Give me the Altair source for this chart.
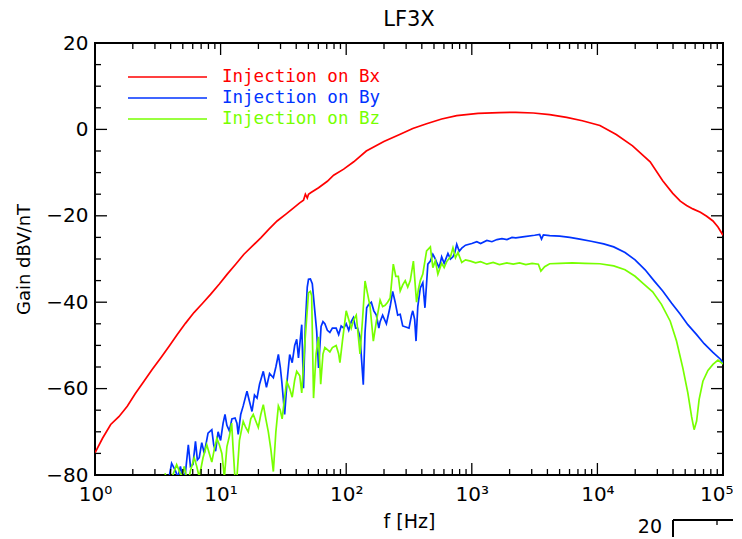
import numpy as np
import pandas as pd
import altair as alt

# ---------------- data (log10 of frequency in Hz, gain in dBV/nT) ----------------
series = ["Injection on Bx", "Injection on By", "Injection on Bz"]
colors = ["#ff0000", "#0033ff", "#77ff00"]

bx_logf = [0, 0.06, 0.125, 0.19, 0.257, 0.32, 0.39, 0.455, 0.523, 0.59, 0.655, 0.72,
           0.788, 0.855, 0.92, 0.99, 1.053, 1.12, 1.186, 1.25, 1.32, 1.385, 1.45, 1.52,
           1.584, 1.63, 1.66, 1.675, 1.69, 1.70, 1.72, 1.78, 1.85, 1.90, 1.98, 2.06,
           2.16, 2.30, 2.43, 2.53, 2.64, 2.76, 2.88, 3.05, 3.22, 3.35, 3.49, 3.62,
           3.755, 3.88, 4.02, 4.15, 4.28, 4.42, 4.52, 4.60, 4.66, 4.71, 4.76, 4.82,
           4.87, 4.92, 4.96, 5.0]
bx_db = [-74.9, -71.5, -68.3, -66.5, -64.1, -61.2, -58.3, -55.6, -52.9, -50.2, -47.5, -44.9,
         -42.4, -40.3, -38.2, -35.8, -33.5, -31.2, -28.9, -27.1, -25.1, -23.1, -21.2, -19.6,
         -18.1, -17.0, -16.4, -15.0, -15.9, -15.0, -14.6, -13.5, -12.0, -10.6, -9.2, -7.5,
         -5.0, -2.8, -1.1, 0.2, 1.3, 2.4, 3.2, 3.7, 3.9, 3.95, 3.8, 3.4,
         2.8, 2.0, 0.9, -1.2, -3.8, -7.5, -11.9, -14.8, -16.6, -17.6, -18.4, -19.2,
         -20.1, -21.2, -22.6, -24.5]

by_logf = [0.55, 0.59, 0.61, 0.64, 0.66, 0.68, 0.70, 0.72, 0.743, 0.76, 0.78, 0.80, 0.815,
           0.83, 0.85, 0.87, 0.90, 0.93, 0.945, 0.96, 0.98, 1.0, 1.02, 1.035, 1.05, 1.07,
           1.09, 1.115, 1.13, 1.14, 1.16, 1.18, 1.21, 1.23, 1.25, 1.27, 1.29, 1.31, 1.34,
           1.365, 1.39, 1.42, 1.44, 1.46, 1.475, 1.487, 1.51, 1.53, 1.55, 1.57, 1.59, 1.606,
           1.62, 1.646, 1.66, 1.675, 1.69, 1.70, 1.715, 1.73, 1.75, 1.765, 1.78, 1.80, 1.815,
           1.83, 1.85, 1.87, 1.89, 1.92, 1.94, 1.96, 1.98, 2.0, 2.02, 2.04, 2.057, 2.075,
           2.09, 2.11, 2.136, 2.15, 2.163, 2.18, 2.2, 2.22, 2.24, 2.26, 2.27, 2.29, 2.32,
           2.35, 2.37, 2.39, 2.41, 2.43, 2.45, 2.48, 2.50, 2.52, 2.53, 2.545, 2.556, 2.57,
           2.59, 2.61, 2.627, 2.65, 2.67, 2.69, 2.71, 2.72, 2.74, 2.76, 2.78, 2.81, 2.83,
           2.85, 2.865, 2.88, 2.90, 2.92, 2.95, 3.0, 3.04, 3.07, 3.12, 3.16, 3.2, 3.24,
           3.28, 3.32, 3.35, 3.42, 3.5, 3.54, 3.555, 3.57, 3.62, 3.7, 3.78, 3.86, 3.95,
           4.05, 4.13, 4.22, 4.30, 4.38, 4.45, 4.52, 4.59, 4.66, 4.72, 4.79, 4.85, 4.92,
           4.98, 5.0]
by_db = [-84, -80.5, -77.3, -79, -80.5, -78, -81, -79.5, -73, -78, -77.6, -72.2, -76.5,
         -76, -72.5, -75, -70.3, -69.5, -73, -74.5, -70, -72, -68, -66, -68.5, -69.8,
         -67, -66.8, -68, -70.6, -66, -64, -60.6, -63, -65.3, -61.5, -62.2, -59, -56,
         -59.7, -56.5, -57.5, -55, -52.1, -55, -58.3, -66, -58, -52.1, -54, -50, -48.6,
         -52.9, -45.2, -59.9, -45, -36.5, -34.7, -34.6, -35.7, -42, -46.7, -55.2, -45.6, -44.5,
         -45, -46.5, -47, -46, -46, -47.5, -45.5, -46, -45, -46.5, -44.5, -43.6, -46,
         -46, -48, -59.1, -47, -41.3, -40.5, -40, -42, -43, -46, -44.5, -43, -45,
         -41, -37.5, -40, -43, -42.8, -45.5, -45.8, -46, -43, -42, -44, -49, -41,
         -36.7, -35.5, -41.3, -31.2, -30.5, -28.9, -30, -30.8, -32, -29.5, -31, -28.7, -30,
         -29.5, -28.5, -26.6, -28.2, -27.5, -26.8, -26.4, -26.0, -26.4, -25.7, -26.0, -25.5, -25.3,
         -25.5, -25.0, -25.1, -24.8, -24.5, -24.3, -25.4, -24.4, -24.6, -24.7, -25.0, -25.4, -25.9,
         -26.5, -27.2, -28.5, -30.2, -32.5, -35.0, -37.4, -40.2, -42.8, -45.2, -47.5, -49.6, -51.6,
         -53.2, -54.0]

bz_logf = [0.557, 0.575, 0.60, 0.62, 0.65, 0.67, 0.69, 0.71, 0.74, 0.76, 0.79, 0.81, 0.83,
           0.86, 0.89, 0.91, 0.93, 0.95, 0.97, 0.99, 1.01, 1.03, 1.05, 1.07, 1.088, 1.10,
           1.115, 1.13, 1.15, 1.18, 1.20, 1.22, 1.24, 1.26, 1.28, 1.30, 1.32, 1.34, 1.36,
           1.38, 1.40, 1.42, 1.44, 1.46, 1.475, 1.49, 1.51, 1.526, 1.55, 1.57, 1.59, 1.606,
           1.63, 1.646, 1.672, 1.70, 1.715, 1.725, 1.74, 1.76, 1.78, 1.797, 1.815, 1.83, 1.85,
           1.87, 1.89, 1.92, 1.94, 1.95, 1.97, 2.0, 2.02, 2.04, 2.06, 2.08, 2.11, 2.13,
           2.15, 2.17, 2.19, 2.216, 2.24, 2.255, 2.27, 2.29, 2.31, 2.33, 2.35, 2.375, 2.395,
           2.415, 2.43, 2.45, 2.47, 2.49, 2.51, 2.535, 2.56, 2.575, 2.59, 2.61, 2.64, 2.67,
           2.69, 2.71, 2.73, 2.76, 2.78, 2.80, 2.83, 2.85, 2.87, 2.89, 2.92, 2.95, 2.99,
           3.03, 3.07, 3.12, 3.17, 3.22, 3.28, 3.33, 3.38, 3.43, 3.48, 3.53, 3.55, 3.58,
           3.62, 3.7, 3.8, 3.9, 4.02, 4.13, 4.22, 4.30, 4.37, 4.44, 4.51, 4.58, 4.63,
           4.68, 4.72, 4.75, 4.77, 4.79, 4.81, 4.84, 4.88, 4.92, 4.96, 5.0]
bz_db = [-79.6, -81, -83, -80, -77.6, -79, -80.5, -78, -82, -79, -76, -78, -80.5,
         -76, -73, -75, -77, -74, -71.5, -73, -75, -80.5, -73.5, -71, -68, -74,
         -81, -80.5, -72, -67.6, -69, -70, -67, -66, -67.5, -69, -66, -63.7, -67,
         -70, -74, -79.2, -70, -64, -65, -67, -62, -58.3, -60, -62, -58, -56,
         -57, -61, -49, -37.8, -37.5, -38.5, -62.2, -52, -48, -59, -52, -50.5, -51,
         -51.5, -50.5, -50, -52, -54, -49, -42, -44, -46, -44, -43, -52, -44,
         -35.1, -38, -41, -49, -44.5, -42, -39.5, -41, -40.7, -40, -39, -31.2, -34,
         -34, -37.4, -36, -35, -36.5, -35, -30.5, -40, -37, -35, -33.5, -28.1, -27.2,
         -32, -30.4, -33.5, -31, -32, -30.6, -29.5, -27.4, -29.7, -28.5, -30.8, -30.2, -30.5,
         -30.9, -30.6, -31.2, -30.8, -31.3, -30.9, -31.2, -30.9, -31.3, -31.0, -31.2, -32.8, -31.8,
         -31.1, -31.0, -30.9, -31.0, -31.1, -31.6, -32.5, -34.0, -35.8, -37.6, -40.5, -44.4, -49.0,
         -55.2, -61.0, -66.5, -69.5, -67.5, -62.5, -58.3, -55.8, -54.4, -53.4, -54.3]

# axis tick values
x_major = [1, 10, 100, 1000, 10000, 100000]
x_minor = [m * 10 ** k for k in range(5) for m in range(2, 10)]
y_major = [-80, -60, -40, -20, 0, 20]
y_minor = [-75, -70, -65, -55, -50, -45, -35, -30, -25, -15, -10, -5, 5, 10, 15]

# ---------------- build table ----------------
frames = []
for name, lf, db in [(series[0], bx_logf, bx_db), (series[1], by_logf, by_db),
                     (series[2], bz_logf, bz_db)]:
    frames.append(pd.DataFrame({"f": 10 ** np.array(lf, dtype=float), "gain": db,
                                "series": name, "idx": range(len(lf))}))
df = pd.concat(frames, ignore_index=True)

W, H = 628, 432
FONT = "DejaVu Sans"
MONO = "DejaVu Sans Mono"
xscale = alt.Scale(type="log", domain=[1, 1e5], nice=False)
yscale = alt.Scale(domain=[-80, 20], nice=False, zero=False)

sup_expr = "'10' + ['\u2070','\u00b9','\u00b2','\u00b3','\u2074','\u2075'][round(log(datum.value)/LN10)]"

x_axis = alt.Axis(values=x_major, labelExpr=sup_expr, ticks=False, grid=False,
                  domain=False, labelFlush=False, labelOverlap=False,
                  labelAlign=alt.ExprRef(expr="datum.value >= 100000 ? 'right' : 'center'"),
                  labelOffset=alt.ExprRef(expr="datum.value >= 100000 ? 10 : 0"),
                  labelFontSize=20, labelPadding=9, title="f [Hz]",
                  titleFontSize=19, titlePadding=8)
y_axis = alt.Axis(values=y_major, ticks=False, grid=False, domain=False,
                  labelFontSize=20, labelPadding=7, title="Gain dBV/nT",
                  titleFontSize=18, titlePadding=12)

lines = alt.Chart(df).mark_line(clip=True, strokeWidth=1.7).encode(
    x=alt.X("f:Q", scale=xscale, axis=x_axis),
    y=alt.Y("gain:Q", scale=yscale, axis=y_axis),
    color=alt.Color("series:N", scale=alt.Scale(domain=series, range=colors), legend=None),
    detail="series:N",
    order="idx:Q",
)

layers = [lines]

# inward ticks on all four sides
xt_major = pd.DataFrame({"f": x_major})
xt_minor = pd.DataFrame({"f": x_minor})
yt_major = pd.DataFrame({"gain": y_major})
yt_minor = pd.DataFrame({"gain": y_minor})
for d, L in [(xt_major, 12), (xt_minor, 6)]:
    for y0, y1 in [(H, H - L), (0, L)]:
        layers.append(alt.Chart(d).mark_rule(color="black", strokeWidth=1.3).encode(
            x=alt.X("f:Q", scale=xscale, axis=x_axis),
            y=alt.value(y0), y2=alt.value(y1)))
for d, L in [(yt_major, 12), (yt_minor, 6)]:
    for x0, x1 in [(0, L), (W, W - L)]:
        layers.append(alt.Chart(d).mark_rule(color="black", strokeWidth=1.3).encode(
            y=alt.Y("gain:Q", scale=yscale, axis=y_axis),
            x=alt.value(x0), x2=alt.value(x1)))

# legend drawn inside the plot
one = pd.DataFrame({"k": [0]})
for i, (name, col) in enumerate(zip(series, colors)):
    yy = 34 + 21 * i
    layers.append(alt.Chart(one).mark_rule(color=col, strokeWidth=1.7).encode(
        x=alt.value(33), x2=alt.value(112), y=alt.value(yy)))
    layers.append(alt.Chart(one).mark_text(text=name, color=col, font=MONO, fontSize=17.5,
                                            align="left", baseline="middle").encode(
        x=alt.value(127), y=alt.value(yy)))

# fragment of the next panel's frame at the bottom right
layers.append(alt.Chart(one).mark_text(text="20", font=FONT, fontSize=19, color="black",
                                        align="right", baseline="middle").encode(
    x=alt.value(567), y=alt.value(484)))
layers.append(alt.Chart(one).mark_rule(color="black", strokeWidth=2).encode(
    x=alt.value(578), y=alt.value(477), y2=alt.value(500)))
layers.append(alt.Chart(one).mark_rule(color="black", strokeWidth=2).encode(
    x=alt.value(578), x2=alt.value(640), y=alt.value(477)))
layers.append(alt.Chart(one).mark_rule(color="black", strokeWidth=1.3).encode(
    x=alt.value(622), y=alt.value(477), y2=alt.value(482)))

chart = alt.layer(*layers).properties(
    width=W, height=H,
    title=alt.Title("LF3X", fontSize=21, font=FONT, fontWeight="normal", color="black",
                    anchor="middle", offset=3),
    autosize=alt.AutoSizeParams(type="none"),
    padding={"left": 87, "top": 35, "right": 10, "bottom": 62},
).configure_view(
    stroke="black", strokeWidth=2
).configure_axis(
    labelFont=FONT, titleFont=FONT, labelColor="black", titleColor="black",
    titleFontWeight="normal"
)

chart.save("out.html", embed_options={"renderer": "svg", "actions": False})
